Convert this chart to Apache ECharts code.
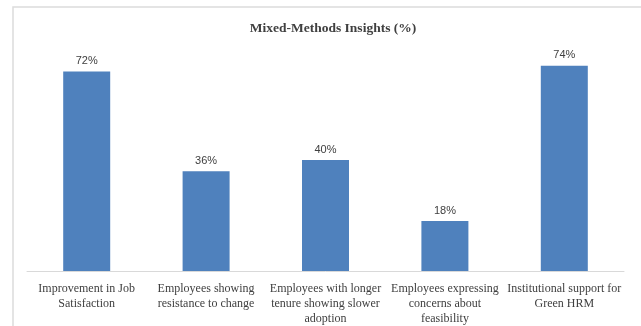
<!DOCTYPE html>
<html>
<head>
<meta charset="utf-8">
<script src="https://cdn.jsdelivr.net/npm/echarts@6/dist/echarts.min.js"></script>
<style>
html,body{margin:0;padding:0;background:#fff;}
#chart{width:641px;height:326px;}
</style>
</head>
<body>
<div id="chart"></div>
<script>
const chartTitle = 'Mixed-Methods Insights (%)';
const categories = [
  'Improvement in Job\nSatisfaction',
  'Employees showing\nresistance to change',
  'Employees with longer\ntenure showing slower\nadoption',
  'Employees expressing\nconcerns about\nfeasibility',
  'Institutional support for\nGreen HRM'
];
const values = [72, 36, 40, 18, 74];

const chart = echarts.init(document.getElementById('chart'));
chart.setOption({
  animation: false,
  backgroundColor: '#fff',
  graphic: [{
    type: 'rect',
    shape: { x: 13, y: 7, width: 700, height: 400 },
    style: { fill: 'none', stroke: '#dcdcdc', lineWidth: 1.5 },
    silent: true
  }],
  title: {
    text: chartTitle,
    left: 328,
    textAlign: 'center',
    top: 17,
    textStyle: { fontFamily: 'Liberation Serif', fontSize: 13.5, fontWeight: 'bold', color: '#404040' }
  },
  grid: { left: 27, right: 17, top: 52, bottom: 55 },
  xAxis: {
    type: 'category',
    data: categories,
    axisTick: { show: false },
    axisLine: { lineStyle: { color: '#d9d9d9', width: 1 } },
    axisLabel: {
      interval: 0,
      margin: 10,
      fontFamily: 'Liberation Serif',
      fontSize: 12,
      lineHeight: 15,
      color: '#404040'
    }
  },
  yAxis: {
    type: 'value',
    min: 0,
    max: 79,
    show: false,
    splitLine: { show: false }
  },
  series: [{
    type: 'bar',
    data: values,
    barWidth: 47,
    itemStyle: { color: '#4f81bd' },
    label: {
      show: true,
      position: 'top',
      distance: 5,
      formatter: '{c}%',
      fontFamily: 'Liberation Sans',
      fontSize: 11,
      color: '#404040'
    }
  }]
});
</script>
</body>
</html>
